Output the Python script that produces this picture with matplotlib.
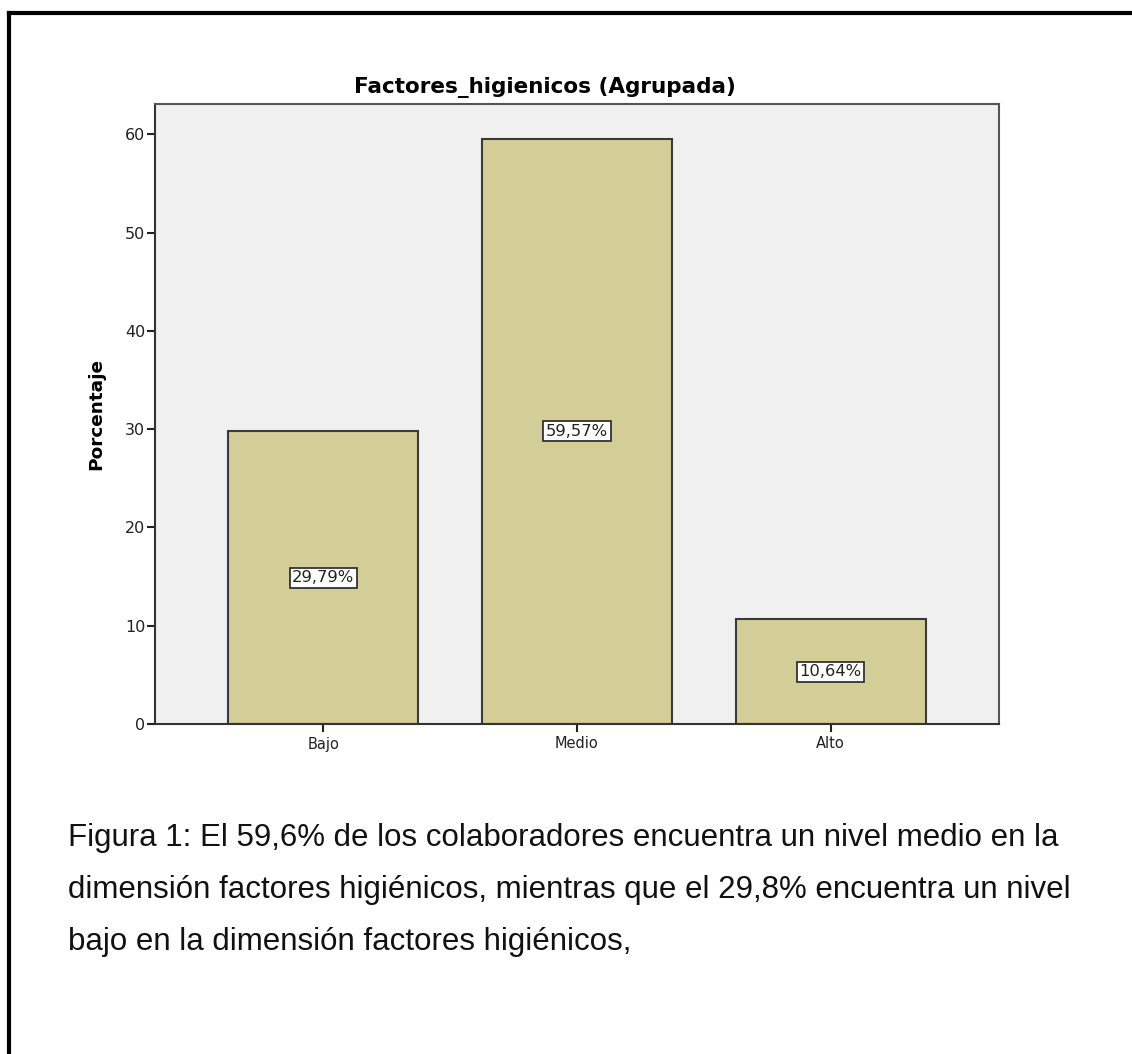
import matplotlib
matplotlib.use("Agg")
from matplotlib import pyplot as plt
from matplotlib.lines import Line2D
import numpy as np

plt.rcParams['font.family'] = ['DejaVu Sans']

# Factores higienicos (Agrupada)
categorias = ["Bajo", "Medio", "Alto"]
porcentajes = [29.79, 59.57, 10.64]
etiquetas = ["29,79%", "59,57%", "10,64%"]
y_ticks = [0, 10, 20, 30, 40, 50, 60]

titulo = "Factores_higienicos (Agrupada)"
y_label = "Porcentaje"
pie = ["Figura 1: El 59,6% de los colaboradores encuentra un nivel medio en la",
       "dimensión factores higiénicos, mientras que el 29,8% encuentra un nivel",
       "bajo en la dimensión factores higiénicos,"]

W, H = 1132, 1054
fig = plt.figure(figsize=(W / 100, H / 100), dpi=100)

# axes position in pixels
left, right, top, bottom = 155, 999, 104, 724
ax = fig.add_axes([left / W, 1 - bottom / H, (right - left) / W, (bottom - top) / H])
ax.set_facecolor("#f0f0f0")

x = np.arange(len(categorias))
ax.bar(x, porcentajes, width=0.75, color="#d3ce97", edgecolor="#3a3a3a", linewidth=1.5, zorder=2)

for xi, val, lab in zip(x, porcentajes, etiquetas):
    ax.text(xi, val / 2, lab, ha="center", va="center", fontsize=11.8, zorder=3, color="#222222",
            bbox=dict(boxstyle="square,pad=0.15", facecolor="white", edgecolor="#333333", linewidth=1.3))

ax.set_xlim(-0.663, 2.663)
ax.set_ylim(0, 63.1)
ax.set_xticks(x)
ax.set_xticklabels(categorias, fontsize=10.5, color="#222222")
ax.set_yticks(y_ticks)
ax.tick_params(axis="y", labelsize=11.5, labelcolor="#222222", length=6, width=1.5, color="#222222", pad=1)
ax.tick_params(axis="x", length=6, width=1.5, color="#222222", pad=3)
for s in ax.spines.values():
    s.set_color("#555555")
    s.set_linewidth(1.5)
ax.spines["left"].set_color("#333333")
ax.spines["bottom"].set_color("#333333")

# SPSS centres the title over the whole chart, not just the plot area
fig.text(545 / W, 1 - 87 / H, titulo, fontsize=15.5, fontweight="bold", ha="center", va="center")
ax.set_ylabel(y_label, fontsize=13.3, fontweight="bold", labelpad=14)

for i, linea in enumerate(pie):
    fig.text(68 / W, 1 - (838 + 52 * i) / H, linea, fontsize=22.5, family="Liberation Sans",
             ha="left", va="center", color="#111111")

# outer frame (top and left edges only are visible)
fig.add_artist(Line2D([9 / W, 1.0], [1 - 13 / H, 1 - 13 / H], color="black", linewidth=3))
fig.add_artist(Line2D([9 / W, 9 / W], [0, 1 - 13 / H], color="black", linewidth=3))

fig.savefig("out.png", dpi=100)
